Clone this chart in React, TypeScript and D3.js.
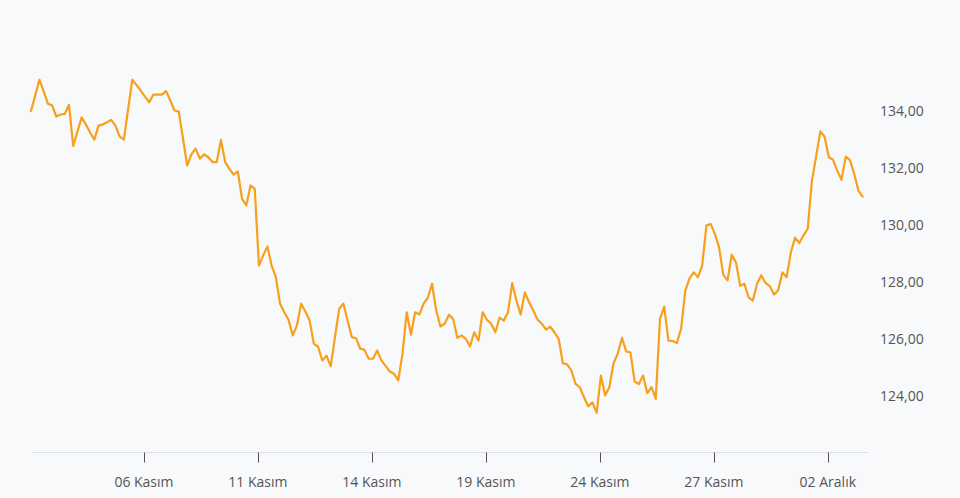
import React from "react";
import * as d3 from "d3";

const values: number[] = [
  133.98, 134.53, 135.08, 134.67, 134.24, 134.18, 133.79, 133.86, 133.88, 134.2,
  132.76, 133.26, 133.76, 133.51, 133.23, 132.98, 133.47, 133.51, 133.59, 133.67,
  133.47, 133.09, 132.98, 134.04, 135.08, 134.89, 134.7, 134.49, 134.29, 134.56,
  134.56, 134.56, 134.68, 134.35, 134.0, 133.96, 133.02, 132.07, 132.46, 132.66,
  132.31, 132.46, 132.36, 132.19, 132.19, 132.97, 132.19, 131.95, 131.75, 131.86,
  130.9, 130.67, 131.37, 131.25, 128.56, 128.91, 129.23, 128.56, 128.15, 127.22,
  126.92, 126.66, 126.11, 126.46, 127.22, 126.95, 126.63, 125.81, 125.72, 125.23,
  125.4, 125.02, 126.04, 127.04, 127.22, 126.63, 126.05, 126.01, 125.64, 125.6,
  125.29, 125.29, 125.58, 125.23, 125.04, 124.84, 124.76, 124.53, 125.46, 126.92,
  126.13, 126.92, 126.84, 127.22, 127.43, 127.92, 126.98, 126.42, 126.52, 126.83,
  126.69, 126.02, 126.11, 125.99, 125.72, 126.22, 125.93, 126.92, 126.66, 126.52,
  126.22, 126.73, 126.63, 126.92, 127.94, 127.33, 126.84, 127.62, 127.27, 126.98,
  126.66, 126.52, 126.31, 126.42, 126.22, 125.99, 125.13, 125.09, 124.88, 124.41,
  124.29, 123.94, 123.62, 123.76, 123.39, 124.7, 124.0, 124.29, 125.13, 125.47,
  126.02, 125.55, 125.51, 124.49, 124.4, 124.7, 124.08, 124.29, 123.88, 126.69,
  127.12, 125.93, 125.91, 125.84, 126.34, 127.68, 128.11, 128.32, 128.15, 128.56,
  129.96, 130.02, 129.67, 129.2, 128.23, 128.04, 128.94, 128.67, 127.85, 127.92,
  127.44, 127.33, 127.92, 128.22, 127.95, 127.84, 127.54, 127.69, 128.32, 128.15,
  129.02, 129.54, 129.35, 129.62, 129.85, 131.54, 132.4, 133.27, 133.08, 132.36,
  132.27, 131.89, 131.57, 132.38, 132.26, 131.78, 131.19, 130.98,
];

const xTickIndex: number[] = [27, 54, 81, 108, 135, 162, 189];
const xTickLabels: string[] = [
  "06 Kasım",
  "11 Kasım",
  "14 Kasım",
  "19 Kasım",
  "24 Kasım",
  "27 Kasım",
  "02 Aralık",
];
const yTicks: number[] = [124, 126, 128, 130, 132, 134];

const W = 960;
const H = 498;

export default function App() {
  const x = d3.scaleLinear().domain([0, values.length - 1]).range([31.0, 862.6]);
  const y = d3.scaleLinear().domain([122, 136]).range([452.5, 53.5]);
  const line = d3
    .line<number>()
    .x((_, i) => x(i))
    .y((d) => y(d));
  const fmt = (v: number) => v.toFixed(2).replace(".", ",");
  const axisY = y(122);
  const font = "'Open Sans', 'Segoe UI', sans-serif";

  return (
    <svg
      width={W}
      height={H}
      style={{ position: "absolute", left: 0, top: 0, display: "block" }}
    >
      <rect x={0} y={0} width={W} height={H} fill="#f8f9fb" />
      <line x1={32} x2={868} y1={axisY} y2={axisY} stroke="#dcdfe3" strokeWidth={1} />
      {xTickIndex.map((idx, k) => (
        <g key={k}>
          <line
            x1={Math.round(x(idx)) - 0.5}
            x2={Math.round(x(idx)) - 0.5}
            y1={axisY}
            y2={axisY + 10}
            stroke="#555"
            strokeWidth={1}
          />
          <text
            x={x(idx) - 1}
            y={axisY + 34}
            textAnchor="middle"
            fontFamily={font}
            fontSize={14}
            fill="#555"
          >
            {xTickLabels[k]}
          </text>
        </g>
      ))}
      {yTicks.map((t) => (
        <text
          key={t}
          x={880}
          y={y(t) + 5}
          textAnchor="start"
          fontFamily={font}
          fontSize={14}
          fill="#555"
        >
          {fmt(t)}
        </text>
      ))}
      <path
        d={line(values) || ""}
        fill="none"
        stroke="#f7a01c"
        strokeWidth={2.2}
        strokeLinejoin="round"
        strokeLinecap="round"
      />
    </svg>
  );
}
